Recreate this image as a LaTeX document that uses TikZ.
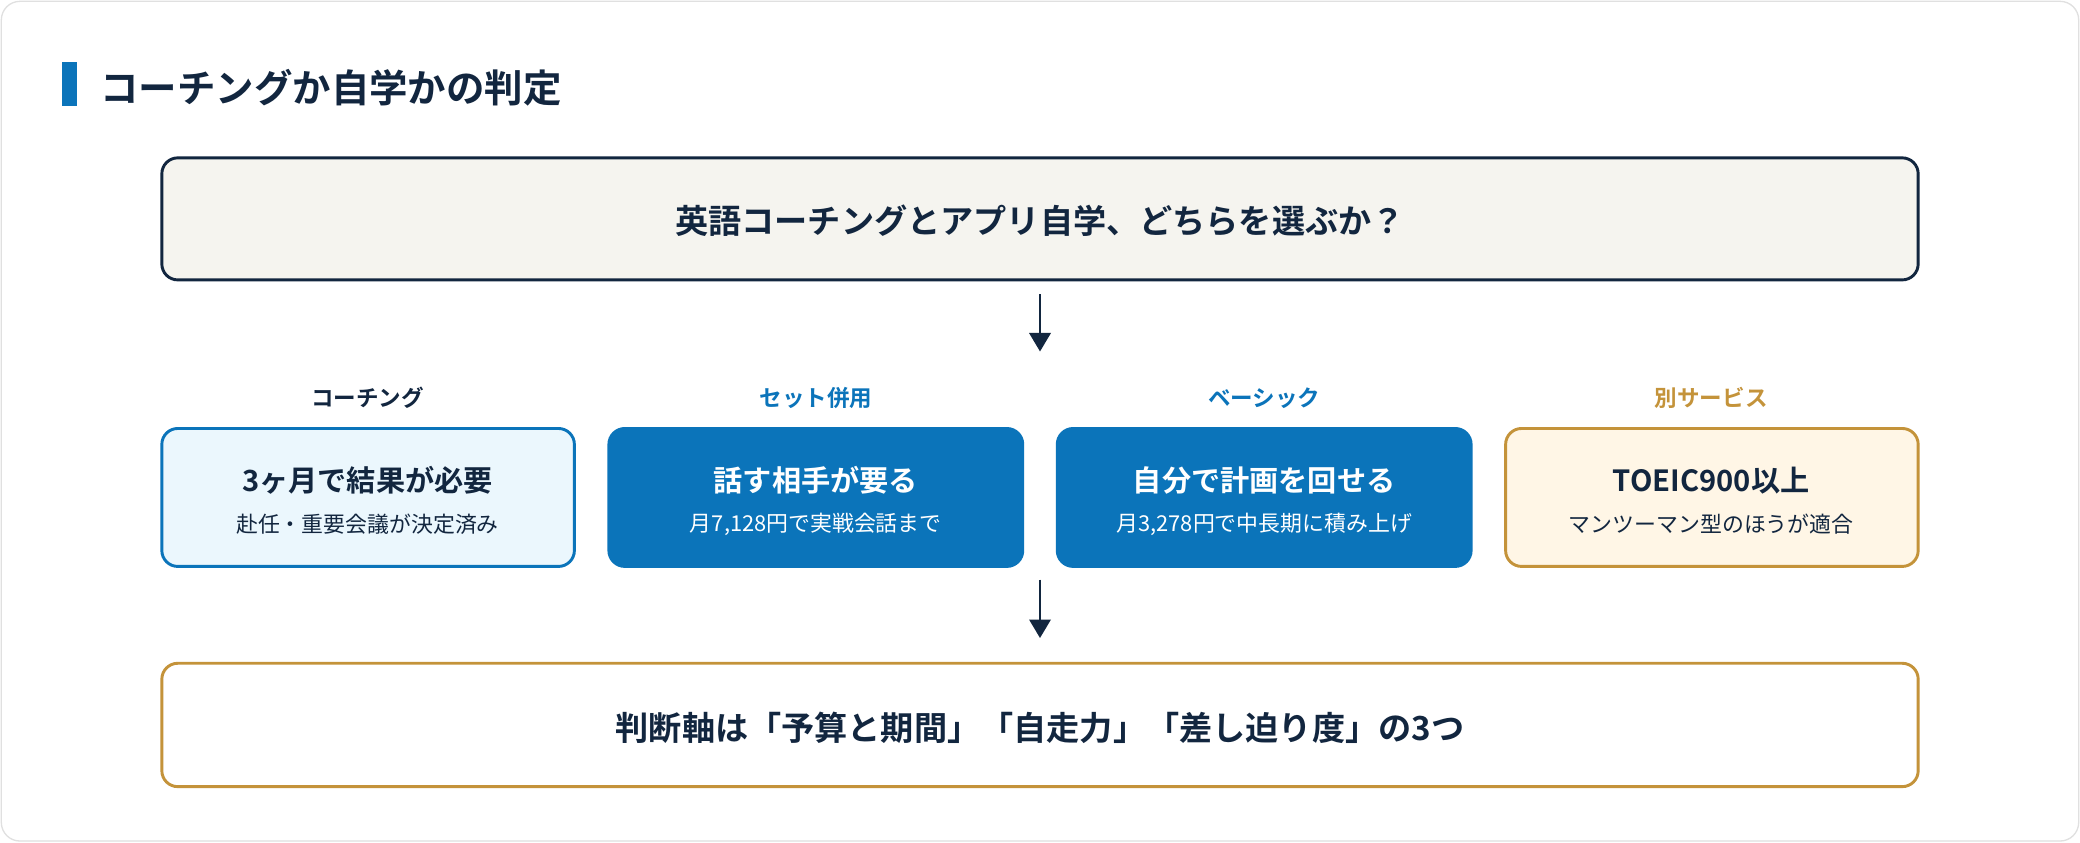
\documentclass[tikz,border=0pt]{standalone}
\usepackage{fontspec}
\setmainfont{Noto Sans CJK JP}
\newfontfamily\jpb{Noto Sans CJK JP Bold}
\usetikzlibrary{arrows.meta}
\definecolor{navy}{HTML}{12263F}
\definecolor{blu}{HTML}{0B74BA}
\definecolor{gold}{HTML}{C4933A}
\definecolor{lb}{HTML}{EBF7FD}
\definecolor{lg}{HTML}{FFF6E6}
\definecolor{cr}{HTML}{F5F4EF}
\tikzset{
 box/.style={rounded corners=12pt,line width=2.2pt},
 lab/.style={font=\jpb\fontsize{17}{20}\selectfont},
 mt/.style={font=\jpb\fontsize{22}{26}\selectfont},
 st/.style={font=\fontsize{16.5}{20}\selectfont},
 arr/.style={draw=navy,line width=2.2pt,-{Triangle[length=14pt,width=16pt]}}
}
\begin{document}
\begin{tikzpicture}[x=1pt,y=-1pt]
\useasboundingbox (0,0) rectangle (1568,635);
\draw[rounded corners=14pt,draw=black!12,fill=white,line width=1pt] (1,1) rectangle (1567,634);
\fill[blu] (47,47) rectangle (58,80);
\node[anchor=west,text=navy,font=\jpb\fontsize{29}{34}\selectfont] (title) at (72,66) {コーチングか自学かの判定};
\draw[box,draw=navy,fill=cr] (122,119) rectangle (1446,211);
\node[text=navy,font=\jpb\fontsize{25}{30}\selectfont] (q) at (784,166) {英語コーチングとアプリ自学、どちらを選ぶか？};
\coordinate (a1) at (784,222); \coordinate (a2) at (784,265);
\draw[arr] (a1) -- (a2);
\node[lab,text=navy] (l1) at (277,300) {コーチング};
\node[lab,text=blu] (l2) at (615,300) {セット併用};
\node[lab,text=blu] (l3) at (953,300) {ベーシック};
\node[lab,text=gold] (l4) at (1290,300) {別サービス};
\draw[box,draw=blu,fill=lb] (122,323) rectangle (433,427);
\draw[box,draw=blu,fill=blu] (459,323) rectangle (771,427);
\draw[box,draw=blu,fill=blu] (797,323) rectangle (1109,427);
\draw[box,draw=gold,fill=lg] (1135,323) rectangle (1446,427);
\node[mt,text=navy] (m1) at (277,362) {3ヶ月で結果が必要};
\node[st,text=navy] (s1) at (277,395) {赴任・重要会議が決定済み};
\node[mt,text=white] (m2) at (615,362) {話す相手が要る};
\node[st,text=white] (s2) at (615,395) {月7,128円で実戦会話まで};
\node[mt,text=white] (m3) at (953,362) {自分で計画を回せる};
\node[st,text=white] (s3) at (953,395) {月3,278円で中長期に積み上げ};
\node[mt,text=navy] (m4) at (1290,362) {TOEIC900以上};
\node[st,text=navy] (s4) at (1290,395) {マンツーマン型のほうが適合};
\coordinate (b1) at (784,437); \coordinate (b2) at (784,481);
\draw[arr] (b1) -- (b2);
\draw[box,draw=gold,fill=white] (122,500) rectangle (1446,593);
\node[text=navy,font=\jpb\fontsize{25}{30}\selectfont] (c) at (784,549) {判断軸は「予算と期間」「自走力」「差し迫り度」の3つ};
\end{tikzpicture}
\end{document}
